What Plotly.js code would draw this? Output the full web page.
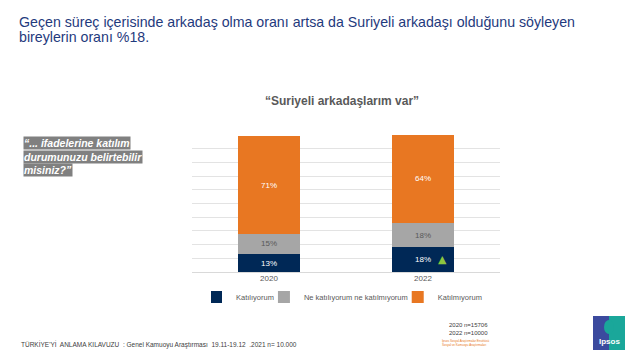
<!DOCTYPE html>
<html>
<head>
<meta charset="utf-8">
<script src="https://cdn.plot.ly/plotly-3.0.1.min.js"></script>
<style>html,body{margin:0;padding:0;background:#fff;}#chart{width:640px;height:360px;}</style>
</head>
<body>
<div id="chart"></div>
<script>
var years = ['2020', '2022'];
var katiliyorum = [13, 18];
var neNe = [15, 18];
var katilmiyorum = [71, 64];
var seriesNames = ['Katılıyorum', 'Ne katılıyorum ne katılmıyorum', 'Katılmıyorum'];
var titleLines = ['Geçen süreç içerisinde arkadaş olma oranı artsa da Suriyeli arkadaşı olduğunu söyleyen',
                  'bireylerin oranı %18.'];

var W = 640, H = 360;
var GL = 40, GR = 620, T = 135, B = 272;   // margin box
var AX0 = 192, AX1 = 500;                   // x-axis extent in px
function px(x) { return (x - GL) / (GR - GL); }
function py(y) { return (B - y) / (B - T); }

var FONT = 'Liberation Sans, Arial, sans-serif';

function barTrace(vals, name, color, txtColor) {
  return {
    type: 'bar', x: years, y: vals, name: name,
    marker: {color: color, line: {width: 0}},
    text: vals.map(function (v) { return v + '%'; }),
    textposition: 'inside', insidetextanchor: 'middle',
    textfont: {family: FONT, size: 8, color: txtColor}
  };
}

var data = [
  barTrace(katiliyorum, seriesNames[0], '#002856', '#ffffff'),
  barTrace(neNe, seriesNames[1], '#a6a6a6', '#595959'),
  barTrace(katilmiyorum, seriesNames[2], '#e87722', '#ffffff')
];

var leftLines = ['“... ifadelerine katılım', 'durumunuzu belirtebilir', 'misiniz?”'];
var leftY = [143, 157, 170];
var titleY = [21.5, 37.5];

var annotations = [
  {xref: 'paper', yref: 'paper', x: px(342), y: py(101), xanchor: 'center', yanchor: 'middle', showarrow: false,
   text: '<b>“Suriyeli arkadaşlarım var”</b>', font: {family: FONT, size: 12, color: '#595959'}},
  {xref: 'x', yref: 'y', x: 1, y: 9, xshift: 19, showarrow: false, text: '▲',
   font: {family: 'DejaVu Sans', size: 11, color: '#8dc63f'}},
  {xref: 'paper', yref: 'paper', x: px(19), y: py(344), xanchor: 'left', yanchor: 'middle', showarrow: false,
   text: 'TÜRKİYE\'Yİ  ANLAMA KILAVUZU  : Genel Kamuoyu Araştırması  19.11-19.12  .2021 n= 10.000',
   font: {family: FONT, size: 6.5, color: '#404040'}},
  {xref: 'paper', yref: 'paper', x: px(447), y: py(329), xanchor: 'left', yanchor: 'middle', showarrow: false,
   align: 'left', text: '2020 n=15706<br>2022 n=10000',
   font: {family: FONT, size: 6, color: '#404040'}},
  {xref: 'paper', yref: 'paper', x: px(440), y: py(343), xanchor: 'left', yanchor: 'middle', showarrow: false,
   align: 'left', text: 'Ipsos Sosyal Araştırmalar Enstitüsü<br>Sosyal ve Kamuoyu Araştırmaları',
   font: {family: FONT, size: 3, color: '#e87722'}},
  {xref: 'paper', yref: 'paper', x: px(609), y: py(341), xanchor: 'center', yanchor: 'middle', showarrow: false,
   text: '<b>Ipsos</b>', font: {family: FONT, size: 8, color: '#ffffff'}}
];
titleLines.forEach(function (t, i) {
  annotations.push({xref: 'paper', yref: 'paper', x: px(17), y: py(titleY[i]), xanchor: 'left', yanchor: 'middle',
    showarrow: false, text: t, font: {family: FONT, size: 14.2, color: '#1f3a7d'}});
});
leftLines.forEach(function (t, i) {
  annotations.push({xref: 'paper', yref: 'paper', x: px(23), y: py(leftY[i]), xanchor: 'left', yanchor: 'middle',
    showarrow: false, text: '<b><i>' + t + '</i></b>', bgcolor: '#808080', borderpad: 0,
    font: {family: FONT, size: 10.5, color: '#ffffff'}});
});

var shapes = [
  {type: 'rect', xref: 'paper', yref: 'paper', x0: px(593), x1: px(625), y0: py(350), y1: py(316),
   fillcolor: '#3b4a9e', line: {width: 0}, layer: 'below'},
  {type: 'rect', xref: 'paper', yref: 'paper', x0: px(609), x1: px(625), y0: py(350), y1: py(316),
   fillcolor: '#1aa79a', line: {width: 0}, layer: 'below'},
  {type: 'circle', xref: 'paper', yref: 'paper', x0: px(604), x1: px(614), y0: py(334), y1: py(320),
   fillcolor: '#1aa79a', line: {width: 0}, layer: 'below'}
];

var layout = {
  width: W, height: H,
  margin: {l: GL, r: W - GR, t: T, b: H - B, pad: 0},
  paper_bgcolor: '#ffffff', plot_bgcolor: 'rgba(0,0,0,0)',
  barmode: 'stack', bargap: 0.6,
  showlegend: true,
  legend: {orientation: 'h', x: px(349), xanchor: 'center', y: py(297), yanchor: 'middle',
    indentation: -15, bgcolor: 'rgba(0,0,0,0)',
    font: {family: FONT, size: 7.5, color: '#595959'}, traceorder: 'normal'},
  xaxis: {type: 'category', domain: [px(AX0), px(AX1)], showgrid: false, zeroline: false, showline: false,
    ticks: '', tickfont: {family: FONT, size: 8, color: '#595959'}},
  yaxis: {range: [0, 100], dtick: 10, showgrid: true, gridcolor: '#e3e3e3', gridwidth: 1,
    showticklabels: false, zeroline: true, zerolinecolor: '#d9d9d9'},
  annotations: annotations,
  shapes: shapes
};

Plotly.newPlot('chart', data, layout, {displayModeBar: false});
</script>
</body>
</html>
